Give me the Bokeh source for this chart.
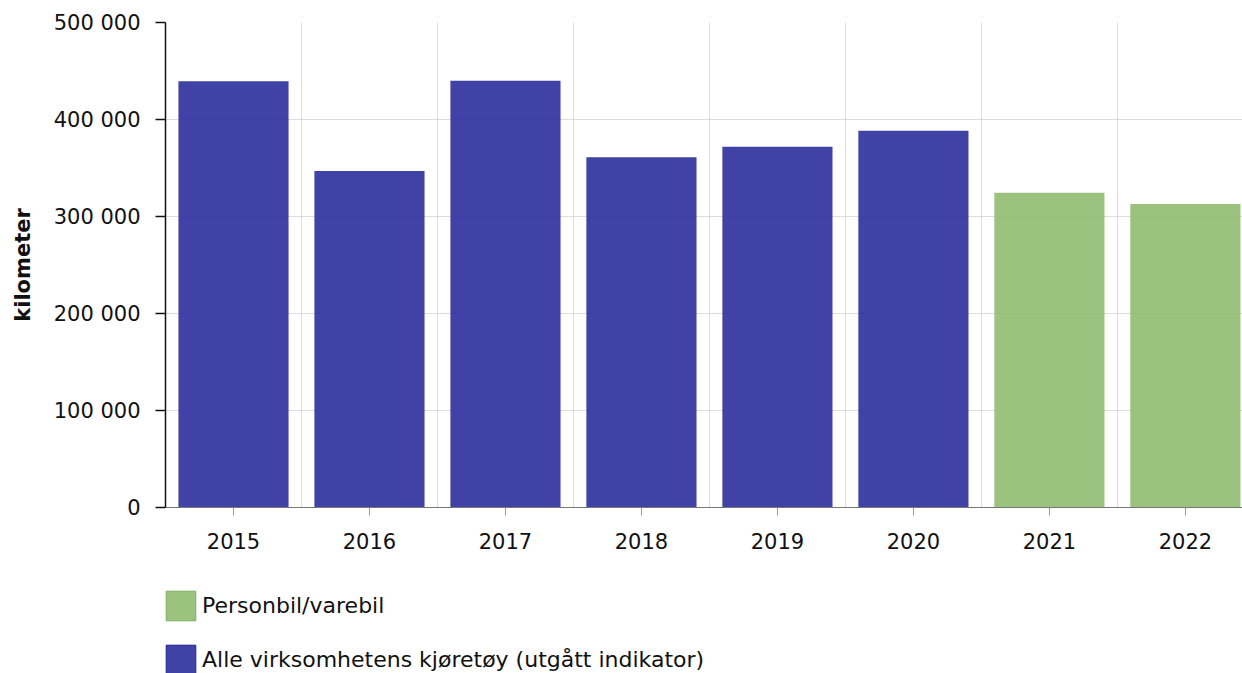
from bokeh.plotting import figure
from bokeh.models import Range1d, FixedTicker, Legend, LegendItem
from bokeh.layouts import column
from bokeh.embed import file_html
from bokeh.resources import INLINE

years = ["2015", "2016", "2017", "2018", "2019", "2020", "2021", "2022"]
alle_values = [439500, 347000, 440000, 361000, 372000, 388500, None, None]
person_values = [None, None, None, None, None, None, 324500, 313000]
y_ticks = [0, 100000, 200000, 300000, 400000, 500000]
y_tick_labels = ["0", "100 000", "200 000", "300 000", "400 000", "500 000"]
series_names = ["Personbil/varebil", "Alle virksomhetens kjøretøy (utgått indikator)"]

FONT = "DejaVu Sans"
BLUE = "#2b2f9b"
GREEN = "#90bd71"

xs = [i + 0.5 for i in range(len(years))]
alle_x = [x for x, v in zip(xs, alle_values) if v is not None]
alle_top = [v for v in alle_values if v is not None]
pers_x = [x for x, v in zip(xs, person_values) if v is not None]
pers_top = [v for v in person_values if v is not None]

p = figure(frame_width=1077, frame_height=485, output_backend="svg", toolbar_location=None,
           x_range=Range1d(0, 7.92), y_range=Range1d(0, 500000),
           min_border_left=165, min_border_top=22, min_border_right=0, min_border_bottom=55)
p.outline_line_color = None

p.vbar(x=alle_x, top=alle_top, width=0.81, fill_color=BLUE, fill_alpha=0.9, line_color=None)
p.vbar(x=pers_x, top=pers_top, width=0.81, fill_color=GREEN, fill_alpha=0.9, line_color=None)

# grids
p.xgrid.ticker = FixedTicker(ticks=list(range(1, len(years))))
p.xgrid.grid_line_color = "#dcdcdc"
p.ygrid.ticker = FixedTicker(ticks=y_ticks)
p.ygrid.grid_line_color = "#dcdcdc"
p.grid.level = "underlay"

# x axis
p.xaxis.ticker = FixedTicker(ticks=xs)
p.xaxis.major_label_overrides = {x: y for x, y in zip(xs, years)}
p.xaxis.axis_line_color = "#777777"
p.xaxis.major_tick_line_color = "#999999"
p.xaxis.major_tick_out = 8
p.xaxis.major_tick_in = 0
p.xaxis.minor_tick_line_color = None
p.xaxis.major_label_text_font = FONT
p.xaxis.major_label_text_font_size = "21px"
p.xaxis.major_label_text_color = "#111111"
p.xaxis.major_label_standoff = 17

# y axis
p.yaxis.ticker = FixedTicker(ticks=y_ticks)
p.yaxis.major_label_overrides = {t: l for t, l in zip(y_ticks, y_tick_labels)}
p.yaxis.axis_line_color = "#111111"
p.yaxis.axis_line_width = 1.5
p.yaxis.major_tick_line_color = "#111111"
p.yaxis.major_tick_line_width = 1.5
p.yaxis.major_tick_out = 10
p.yaxis.major_tick_in = 0
p.yaxis.minor_tick_line_color = None
p.yaxis.major_label_text_font = FONT
p.yaxis.major_label_text_font_size = "21px"
p.yaxis.major_label_text_color = "#111111"
p.yaxis.major_label_standoff = 15
p.yaxis.axis_label = "kilometer"
p.yaxis.axis_label_text_font = FONT
p.yaxis.axis_label_text_font_size = "21px"
p.yaxis.axis_label_text_font_style = "bold"
p.yaxis.axis_label_text_color = "#111111"
p.yaxis.axis_label_standoff = 16

# legend in its own strip below the chart (its frame is aligned with the chart's frame)
lg = figure(width=1242, height=111, output_backend="svg", toolbar_location=None,
            x_axis_location=None, y_axis_location=None,
            x_range=Range1d(-3, -2), y_range=Range1d(0, 1),
            min_border_left=0, min_border_right=0, min_border_top=0, min_border_bottom=0)
lg.outline_line_color = None
lg.grid.visible = False
# same series, drawn outside the strip's view so only their legend swatches show
d_pers = lg.vbar(x=pers_x, top=pers_top, width=0.81, fill_color=GREEN, fill_alpha=0.9,
                 line_color="#7db05c", line_width=1)
d_alle = lg.vbar(x=alle_x, top=alle_top, width=0.81, fill_color=BLUE, fill_alpha=0.9,
                 line_color="#1e2290", line_width=1)
legend = Legend(items=[LegendItem(label=series_names[0], renderers=[d_pers]),
                       LegendItem(label=series_names[1], renderers=[d_alle])],
                orientation="vertical", location=(-3, -5))
legend.label_text_font = FONT
legend.label_text_font_size = "22px"
legend.label_text_color = "#111111"
legend.glyph_width = 37
legend.glyph_height = 37
legend.label_height = 37
legend.spacing = 17
legend.label_standoff = 3
legend.padding = 0
legend.margin = 0
legend.border_line_color = None
legend.background_fill_alpha = 0
lg.add_layout(legend, "center")

layout = column(p, lg, spacing=0)
open("out.html", "w").write(file_html(layout, INLINE))
